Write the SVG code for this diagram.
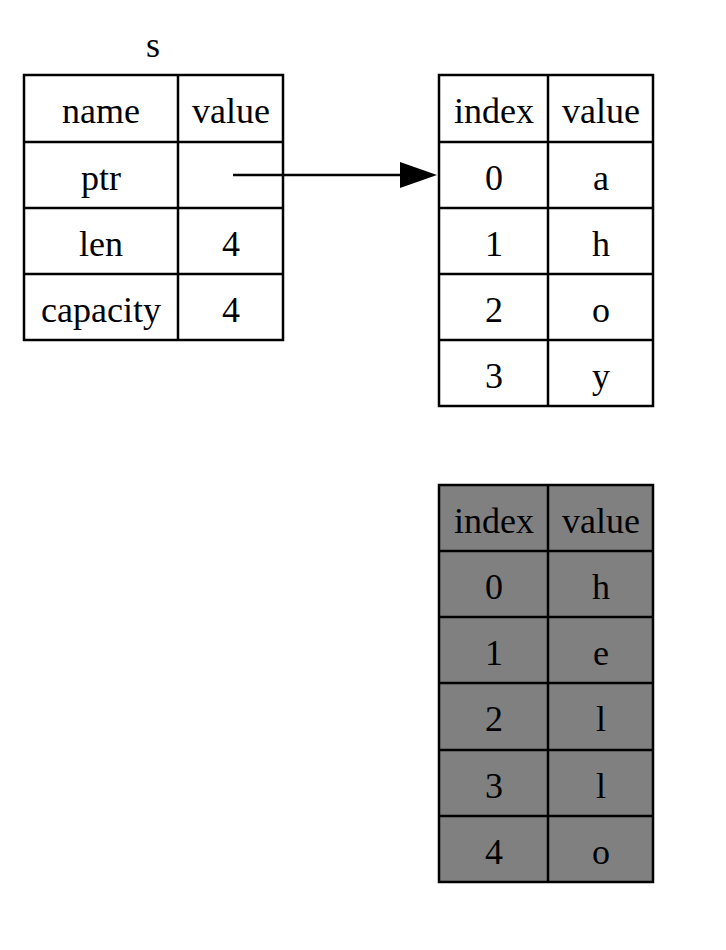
<svg xmlns="http://www.w3.org/2000/svg" width="726" height="950" viewBox="0 0 726 950">
<style>
text{font-family:"Liberation Serif",serif;font-size:36px;text-anchor:middle;fill:#000}
.c{fill:#fff;stroke:#000;stroke-width:2.5}
.g{fill:#808080;stroke:#000;stroke-width:2.5}
line{stroke:#000;stroke-width:2.5}
</style>
<rect width="726" height="950" fill="#fff"/>
<g id="s">
<text x="153" y="57">s</text>
<rect class="c" x="24" y="75" width="259" height="265"/>
<line x1="178" y1="75" x2="178" y2="340"/>
<line x1="24" y1="142" x2="283" y2="142"/>
<line x1="24" y1="208" x2="283" y2="208"/>
<line x1="24" y1="274" x2="283" y2="274"/>
<text x="101" y="123">name</text><text x="231" y="123">value</text>
<text x="101" y="190">ptr</text>
<text x="101" y="256">len</text><text x="231" y="256">4</text>
<text x="101" y="322">capacity</text><text x="231" y="322">4</text>
</g>
<g id="heap">
<rect class="c" x="439" y="75" width="214" height="331"/>
<line x1="548" y1="75" x2="548" y2="406"/>
<line x1="439" y1="142" x2="653" y2="142"/>
<line x1="439" y1="208" x2="653" y2="208"/>
<line x1="439" y1="274" x2="653" y2="274"/>
<line x1="439" y1="340" x2="653" y2="340"/>
<text x="494" y="123">index</text><text x="601" y="123">value</text>
<text x="494" y="190">0</text><text x="601" y="190">a</text>
<text x="494" y="256">1</text><text x="601" y="256">h</text>
<text x="494" y="322">2</text><text x="601" y="322">o</text>
<text x="494" y="388">3</text><text x="601" y="388">y</text>
</g>
<g id="old">
<rect class="g" x="439" y="485" width="214" height="397"/>
<line x1="548" y1="485" x2="548" y2="882"/>
<line x1="439" y1="551" x2="653" y2="551"/>
<line x1="439" y1="617" x2="653" y2="617"/>
<line x1="439" y1="683" x2="653" y2="683"/>
<line x1="439" y1="750" x2="653" y2="750"/>
<line x1="439" y1="816" x2="653" y2="816"/>
<text x="494" y="533">index</text><text x="601" y="533">value</text>
<text x="494" y="599">0</text><text x="601" y="599">h</text>
<text x="494" y="665">1</text><text x="601" y="665">e</text>
<text x="494" y="731">2</text><text x="601" y="731">l</text>
<text x="494" y="798">3</text><text x="601" y="798">l</text>
<text x="494" y="864">4</text><text x="601" y="864">o</text>
</g>
<g id="connectors">
<line x1="233" y1="175" x2="402" y2="175"/>
<polygon points="400,162 437,175 400,188" fill="#000"/>
</g>
</svg>
